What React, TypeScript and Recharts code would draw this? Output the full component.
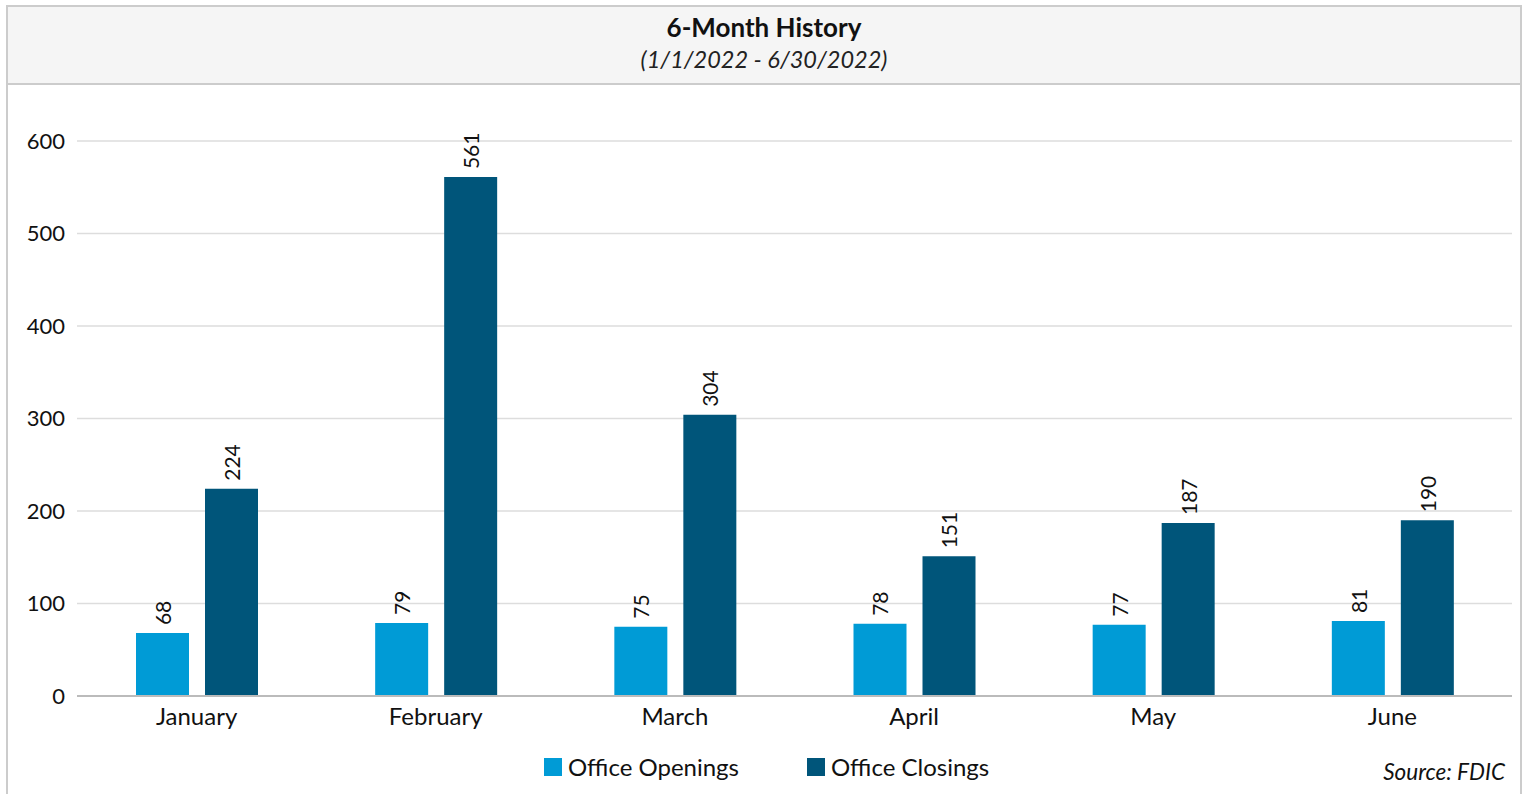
import { BarChart, Bar, XAxis, YAxis, CartesianGrid, LabelList } from "recharts";

const months = ["January", "February", "March", "April", "May", "June"];
const openings = [68, 79, 75, 78, 77, 81];
const closings = [224, 561, 304, 151, 187, 190];
const yTicks = [0, 100, 200, 300, 400, 500, 600];

const OPEN_COLOR = "#009bd6";
const CLOSE_COLOR = "#00557a";
const FONT = "Lato, 'Noto Sans', sans-serif";

const data = months.map((m, i) => ({ month: m, openings: openings[i], closings: closings[i] }));

function VLabel(props: any) {
  const { x, y, width, value } = props;
  const cx = x + width / 2;
  const ty = y - 8;
  return (
    <text
      x={cx}
      y={ty}
      transform={`rotate(-90, ${cx}, ${ty})`}
      textAnchor="start"
      dominantBaseline="central"
      fontSize={21}
      fontFamily={FONT}
      fill="#111"
    >
      {value}
    </text>
  );
}

export default function App() {
  return (
    <div style={{ position: "absolute", left: 0, top: 0, width: 1527, height: 794, overflow: "hidden", background: "#fff", fontFamily: FONT }}>
      {/* frame */}
      <div style={{ position: "absolute", left: 6, top: 5, width: 1516, height: 800, border: "2px solid #cccccc", boxSizing: "border-box" }} />
      <div style={{ position: "absolute", left: 8, top: 7, width: 1512, height: 76, background: "#f5f5f5", borderBottom: "2px solid #cccccc" }}>
        <div style={{ position: "absolute", top: 4, width: "100%", textAlign: "center", fontWeight: 700, fontSize: 26, color: "#111" }}>6-Month History</div>
        <div style={{ position: "absolute", top: 38, width: "100%", textAlign: "center", fontStyle: "italic", fontSize: 23.5, color: "#222" }}>(1/1/2022 - 6/30/2022)</div>
      </div>

      <div style={{ position: "absolute", left: 0, top: 0 }}>
        <BarChart width={1527} height={794} data={data} margin={{ top: 141, right: 15, bottom: 68, left: 17 }} barSize={53} barGap={16}>
          <CartesianGrid vertical={false} stroke="#dddddd" strokeWidth={1.5} />
          <YAxis
            width={60}
            domain={[0, 600]}
            ticks={yTicks}
            axisLine={false}
            tickLine={false}
            tickSize={0}
            tickMargin={12}
            tick={{ fontSize: 22, fill: "#111", fontFamily: FONT }}
          />
          <XAxis
            dataKey="month"
            height={30}
            axisLine={{ stroke: "#bbbbbb", strokeWidth: 2 }}
            tickLine={false}
            tickSize={0}
            tickMargin={12}
            tick={{ fontSize: 24, fill: "#111", fontFamily: FONT }}
          />
          <Bar dataKey="openings" fill={OPEN_COLOR} isAnimationActive={false}>
            <LabelList dataKey="openings" content={VLabel} />
          </Bar>
          <Bar dataKey="closings" fill={CLOSE_COLOR} isAnimationActive={false}>
            <LabelList dataKey="closings" content={VLabel} />
          </Bar>
        </BarChart>
      </div>

      {/* legend */}
      <div style={{ position: "absolute", left: 544, top: 752, display: "flex", alignItems: "center", fontSize: 24, color: "#111" }}>
        <span style={{ width: 18, height: 18, background: OPEN_COLOR, display: "inline-block", marginRight: 6 }} />
        <span>Office Openings</span>
        <span style={{ width: 18, height: 18, background: CLOSE_COLOR, display: "inline-block", marginLeft: 68, marginRight: 6 }} />
        <span>Office Closings</span>
      </div>
      <div style={{ position: "absolute", right: 22, top: 758, fontStyle: "italic", fontSize: 22.5, color: "#111" }}>Source: FDIC</div>
    </div>
  );
}
